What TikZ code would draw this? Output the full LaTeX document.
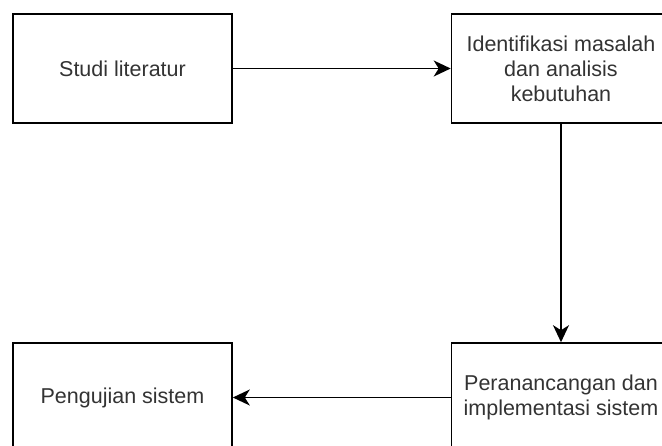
\documentclass[tikz,border=0pt]{standalone}
\usepackage{fontspec}
\setmainfont{Liberation Sans}
\usetikzlibrary{arrows.meta}
\begin{document}
\begin{tikzpicture}[x=1pt,y=-1pt,
  box/.style={draw=black, line width=1.6pt, minimum width=219pt, minimum height=109pt, inner sep=0pt,
    align=center, text=black!80, font=\fontsize{21.5}{25}\selectfont},
  conn/.style={draw=black, line width=1.6pt, -{Stealth[length=17pt,width=16pt,inset=5pt]}}]
\useasboundingbox (0,0) rectangle (662,446);
\clip (0,0) rectangle (662,446);
\node[box] (a) at (122.5,68.5) {Studi literatur};
\node[box] (b) at (561,68.5) {Identifikasi masalah\\dan analisis\\kebutuhan};
\node[box] (c) at (561,397.5) {Peranancangan dan\\implementasi sistem};
\node[box] (d) at (122.5,397.5) {Pengujian sistem};
\draw[conn] (a) -- (b);
\draw[conn] (b) -- (c);
\draw[conn] (c) -- (d);
\end{tikzpicture}
\end{document}
